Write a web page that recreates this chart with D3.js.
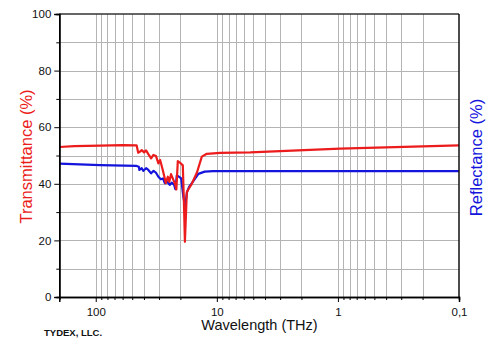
<!DOCTYPE html>
<html>
<head>
<meta charset="utf-8">
<script src="https://cdn.jsdelivr.net/npm/d3@7"></script>
<style>
  html, body { margin: 0; padding: 0; background: #fff; }
  svg { display: block; font-family: "Liberation Sans", Arial, sans-serif; }
</style>
</head>
<body>
<svg id="chart" width="500" height="354"></svg>
<script>
// ---- data ----
const transFreq = [200, 150, 92, 60, 46, 44.6, 43.6, 41.7, 39.9, 38.4, 36.8, 34.9, 33.4, 31.8, 30.4, 29.4, 28.2, 27.1, 26.4, 25.4, 24.7, 23.9, 22.8, 22.1, 21.6, 21.0, 20.2, 19.1, 18.7, 18.35, 18.05, 17.7, 17.2, 16.1, 14.6, 13.3, 12.1, 9.4, 5.3, 0.96, 0.1];
const transVal  = [53.0, 53.3, 53.5, 53.7, 53.6, 51.0, 51.2, 51.9, 51.1, 51.8, 50.5, 49.0, 50.2, 49.8, 47.2, 48.4, 45.5, 42.5, 40.2, 42.5, 40.7, 43.4, 41.3, 39.8, 38.0, 48.0, 47.5, 46.5, 33.5, 19.5, 27.5, 37.0, 38.0, 40.0, 44.0, 49.6, 50.6, 50.9, 51.1, 52.4, 53.6];
const reflFreq  = [200, 92, 46, 44.1, 43.6, 41.7, 40.4, 38.4, 36.8, 34.9, 33.3, 31.8, 30.4, 29.0, 27.8, 26.9, 25.7, 24.5, 23.6, 22.5, 22.0, 21.4, 20.6, 19.7, 18.9, 18.3, 17.6, 16.9, 15.8, 14.2, 12.6, 10.7, 5.3, 0.1];
const reflVal   = [47.1, 46.6, 46.3, 46.0, 44.9, 45.5, 44.6, 45.5, 44.9, 43.7, 44.6, 43.9, 42.5, 41.6, 41.9, 40.2, 40.7, 39.6, 40.4, 39.6, 38.1, 43.0, 42.5, 41.9, 35.4, 32.0, 37.2, 39.0, 40.7, 43.5, 44.3, 44.5, 44.5, 44.5];
const xTickValues = [100, 10, 1, 0.1];
const xTickLabels = ["100", "10", "1", "0,1"];
const yTickValues = [0, 20, 40, 60, 80, 100];
const yMinorValues = [10, 30, 50, 70, 90];

const RED = "#ec1c1c";
const BLUE = "#1414dc";

const svg = d3.select("#chart");
const mLeft = 59.3, mRight = 459, mTop = 14, mBottom = 297;

const x = d3.scaleLog().domain([200, 0.1]).range([mLeft, mRight]);
const y = d3.scaleLinear().domain([0, 100]).range([mBottom, mTop]);

// minor log values for grid / minor ticks
const minorX = [];
[0.1, 1, 10, 100].forEach(d => {
  for (let k = 2; k <= 9; k++) {
    const v = k * d;
    if (v > 0.1 && v < 200) minorX.push(v);
  }
});
const allGridX = minorX.concat(xTickValues.filter(v => v > 0.1 && v < 200));

// grid
const grid = svg.append("g");
grid.selectAll("line.gx").data(allGridX).enter().append("line")
  .attr("x1", d => Math.round(x(d)) + 0.5).attr("x2", d => Math.round(x(d)) + 0.5)
  .attr("y1", mTop).attr("y2", mBottom)
  .attr("stroke", "#b4b4b4").attr("stroke-width", 1);
grid.selectAll("line.gy").data(d3.range(10, 100, 10)).enter().append("line")
  .attr("x1", mLeft).attr("x2", mRight)
  .attr("y1", d => Math.round(y(d)) + 0.5).attr("y2", d => Math.round(y(d)) + 0.5)
  .attr("stroke", "#b4b4b4").attr("stroke-width", 1);

// data lines
const line = d3.line().x(d => x(d[0])).y(d => y(d[1]));
svg.append("path")
  .datum(reflFreq.map((f, i) => [f, reflVal[i]]))
  .attr("d", line).attr("fill", "none").attr("stroke", BLUE)
  .attr("stroke-width", 2.2).attr("stroke-linejoin", "round");
svg.append("path")
  .datum(transFreq.map((f, i) => [f, transVal[i]]))
  .attr("d", line).attr("fill", "none").attr("stroke", RED)
  .attr("stroke-width", 2.2).attr("stroke-linejoin", "round");

// frame (top and right)
svg.append("line").attr("x1", mLeft).attr("x2", mRight).attr("y1", mTop).attr("y2", mTop)
  .attr("stroke", "#333").attr("stroke-width", 1.5);
svg.append("line").attr("x1", mRight).attr("x2", mRight).attr("y1", mTop).attr("y2", mBottom)
  .attr("stroke", "#111").attr("stroke-width", 1.5);

// x axis
const xAxisMinor = d3.axisBottom(x).tickValues(minorX).tickSize(3).tickFormat("");
const xAxisMajor = d3.axisBottom(x).tickValues(xTickValues).tickSize(5)
  .tickFormat(d => xTickLabels[xTickValues.indexOf(d)]);
const gxm = svg.append("g").attr("transform", `translate(0,${mBottom})`).call(xAxisMinor);
const gx = svg.append("g").attr("transform", `translate(0,${mBottom})`).call(xAxisMajor);
[gx, gxm].forEach(g => {
  g.select(".domain").attr("stroke", "#000").attr("stroke-width", 1.5);
  g.selectAll(".tick line").attr("stroke", "#000").attr("stroke-width", 1);
});
gx.selectAll(".tick text").attr("font-size", 11.5).attr("fill", "#111")
  .attr("font-family", "Liberation Sans, Arial, sans-serif").attr("dy", "0.95em");

// y axis
const yAxisMinor = d3.axisLeft(y).tickValues(yMinorValues).tickSize(3).tickFormat("");
const yAxisMajor = d3.axisLeft(y).tickValues(yTickValues).tickSize(5).tickPadding(3);
const gym = svg.append("g").attr("transform", `translate(${mLeft},0)`).call(yAxisMinor);
const gy = svg.append("g").attr("transform", `translate(${mLeft},0)`).call(yAxisMajor);
[gy, gym].forEach(g => {
  g.select(".domain").attr("stroke", "#000").attr("stroke-width", 1.5);
  g.selectAll(".tick line").attr("stroke", "#000").attr("stroke-width", 1);
});
gy.selectAll(".tick text").attr("font-size", 11.5).attr("fill", "#111")
  .attr("font-family", "Liberation Sans, Arial, sans-serif");

// titles
svg.append("text").attr("x", 259.5).attr("y", 330).attr("text-anchor", "middle")
  .attr("font-size", 14.5).attr("fill", "#111").text("Wavelength (THz)");
svg.append("text").attr("transform", "translate(32,156.5) rotate(-90)")
  .attr("text-anchor", "middle").attr("font-size", 16.5).attr("fill", RED)
  .text("Transmittance (%)");
svg.append("text").attr("transform", "translate(482,157.5) rotate(-90)")
  .attr("text-anchor", "middle").attr("font-size", 16.5).attr("fill", BLUE)
  .text("Reflectance (%)");
svg.append("text").attr("x", 44).attr("y", 336)
  .attr("font-size", 9.5).attr("font-weight", "bold").attr("fill", "#111")
  .text("TYDEX, LLC.");
</script>
</body>
</html>
